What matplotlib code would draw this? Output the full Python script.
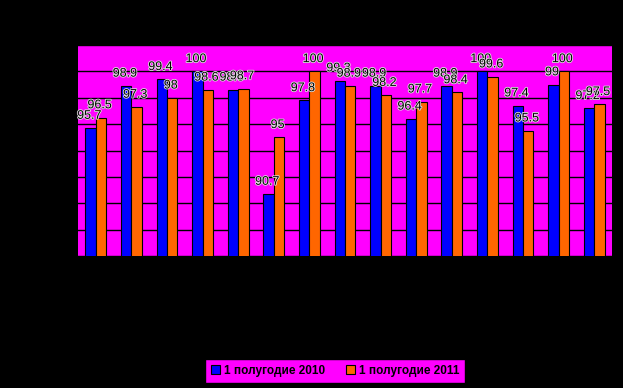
import numpy as np
import matplotlib
matplotlib.use("Agg")
import matplotlib.pyplot as plt
import matplotlib.patheffects as pe

plt.rcParams['font.family'] = ['Liberation Sans', 'DejaVu Sans']

series_names = ["1 полугодие 2010", "1 полугодие 2011"]
values_2010 = [95.7, 98.9, 99.4, 100, 98.6, 90.7, 97.8, 99.3, 98.9, 96.4, 98.9, 100, 97.4, 99, 97.2]
values_2011 = [96.5, 97.3, 98, 98.6, 98.7, 95, 100, 98.9, 98.2, 97.7, 98.4, 99.6, 95.5, 100, 97.5]
y_ticks = [86, 88, 90, 92, 94, 96, 98, 100, 102]

fig = plt.figure(figsize=(6.23, 3.88), dpi=100, facecolor='black')
ax = fig.add_axes([78 / 623, 1 - 256 / 388, (612 - 78) / 623, (256 - 45) / 388])
ax.set_facecolor('#FF00FF')

x = np.arange(len(values_2010))
w = 0.29
b1 = ax.bar(x - w / 2, values_2010, w, color='#0000FF', edgecolor='black', linewidth=0.8,
            label=series_names[0], zorder=3)
b2 = ax.bar(x + w / 2, values_2011, w, color='#FF6600', edgecolor='black', linewidth=0.8,
            label=series_names[1], zorder=3)

ax.set_xlim(-0.5, len(x) - 0.5)
ax.set_ylim(86, 102)
ax.set_yticks(y_ticks)
ax.yaxis.grid(True, color='black', linewidth=1, zorder=0)
ax.tick_params(length=0, labelleft=False, labelbottom=False)
for s in ax.spines.values():
    s.set_visible(False)

halo = [pe.withStroke(linewidth=1.2, foreground='#e0e0e0')]
for bars in (b1, b2):
    for r in bars:
        v = r.get_height()
        lab = ('%g' % v)
        ax.annotate(lab, (r.get_x() + r.get_width() / 2, v), xytext=(-1, 4.5),
                    textcoords='offset points', ha='center', va='bottom',
                    fontsize=9, color='black', path_effects=halo, zorder=5,
                    annotation_clip=False)

leg = fig.legend(loc='center', bbox_to_anchor=(335 / 623, 1 - 371 / 388), ncol=2,
                 frameon=True, fancybox=False, facecolor='#FF00FF', edgecolor='black',
                 framealpha=1, fontsize=8.5, handlelength=0.8, handleheight=0.8,
                 handletextpad=0.3, columnspacing=1.8, borderpad=0.5)
leg.get_frame().set_linewidth(1)
for t in leg.get_texts():
    t.set_fontweight('bold')

fig.savefig('out.png', dpi=100, facecolor='black')
